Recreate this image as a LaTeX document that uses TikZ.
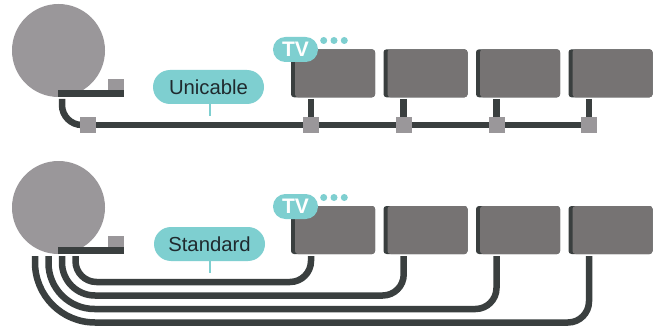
\documentclass[tikz,border=0pt]{standalone}
\usepackage{fontspec}
\setmainfont{Liberation Sans}
\definecolor{dishgray}{HTML}{9A979A}
\definecolor{cabledark}{HTML}{3A3F3F}
\definecolor{tvgray}{HTML}{767373}
\definecolor{teal}{HTML}{7ECFD0}
\definecolor{inktext}{HTML}{1F2A2E}
\tikzset{
  dish/.style={circle,fill=dishgray,inner sep=0,minimum size=93pt},
  lnb/.style={rectangle,fill=dishgray,inner sep=0,minimum width=16pt,minimum height=12pt},
  armbar/.style={rectangle,fill=cabledark,inner sep=0,minimum width=66pt,minimum height=7pt},
  splitter/.style={rectangle,fill=dishgray,inner sep=0,minimum size=16pt},
  tvback/.style={rectangle,fill=cabledark,rounded corners=3pt,inner sep=0,minimum width=84pt,minimum height=48pt},
  tvfront/.style={rectangle,fill=tvgray,rounded corners=3pt,inner sep=0,minimum width=80pt,minimum height=48pt},
  cable/.style={draw=cabledark,line width=6.5pt},
  bubble/.style={rectangle,rounded corners=17pt,fill=teal,inner sep=0,minimum width=111pt,minimum height=34pt,text=inktext,font=\fontsize{20.3}{20.3}\selectfont},
  tvtag/.style={rectangle,rounded corners=12.4pt,fill=teal,inner sep=0,minimum width=45pt,minimum height=25pt,text=white,font=\fontsize{21}{21}\selectfont\bfseries},
  dot/.style={circle,fill=teal,inner sep=0,minimum size=7pt},
  stem/.style={draw=teal,line width=2pt}
}
\begin{document}
\begin{tikzpicture}[x=1pt,y=-1pt]
\useasboundingbox[fill=white] (0,0) rectangle (662,329);
% ---------- top: Unicable
\node[dish] (dishA) at (58.5,50.5) {};
\node[lnb] (lnbA) at (116,85) {};
\node[armbar] (armA) at (91,93.5) {};
\foreach \n/\x in {1/333,2/425.5,3/518,4/610.5}{
  \node[tvback] (tvAb\n) at (\x,73.3) {};
  \node[tvfront] (tvA\n) at (\x+2,73.3) {};
}
\foreach \n/\x in {1/311,2/403.7,3/496.5,4/589}{
  \coordinate (stubA\n) at (\x,99);
  \coordinate (splitPosA\n) at (\x,125);
  \draw[cable] (stubA\n) -- (splitPosA\n);
}
\coordinate (feedA) at (62,99);
\coordinate (splitPosA0) at (88,125);
\draw[cable,rounded corners=20pt] (feedA) |- (splitPosA0);
\draw[cable] (splitPosA0) -- (splitPosA4);
\foreach \n in {0,1,2,3,4}{ \node[splitter] (splitA\n) at (splitPosA\n) {}; }
\node[bubble] (uni) at (208.5,87) {Unicable};
\coordinate (uniEnd) at (209.5,116);
\draw[stem] (uni.south -| uniEnd) -- (uniEnd);
\node[tvtag] (tagA) at (295.5,49.5) {TV};
\foreach \n/\x in {1/323.7,2/334,3/344.3}{ \node[dot] (dotA\n) at (\x,40.5) {}; }
% ---------- bottom: Standard
\node[dish] (dishB) at (58.5,207.5) {};
\node[lnb] (lnbB) at (116,242) {};
\node[armbar] (armB) at (91,250.5) {};
\foreach \n/\x in {1/333,2/425.5,3/518,4/610.5}{
  \node[tvback] (tvBb\n) at (\x,230) {};
  \node[tvfront] (tvB\n) at (\x+2,230) {};
}
\coordinate (outB1) at (75.5,256);
\coordinate (outB2) at (62,256);
\coordinate (outB3) at (48.5,256);
\coordinate (outB4) at (35,256);
\coordinate (inB1) at (311,256);
\coordinate (inB2) at (403.7,256);
\coordinate (inB3) at (496.5,256);
\coordinate (inB4) at (589,256);
\coordinate (lowB1) at (0,282);
\coordinate (lowB2) at (0,295.5);
\coordinate (lowB3) at (0,309);
\coordinate (lowB4) at (0,322.5);
\draw[cable,rounded corners=21pt] (outB1) -- (outB1 |- lowB1) -- (inB1 |- lowB1) -- (inB1);
\draw[cable] (outB2) [rounded corners=33pt] -- (outB2 |- lowB2) [rounded corners=21pt] -- (inB2 |- lowB2) -- (inB2);
\draw[cable] (outB3) [rounded corners=46pt] -- (outB3 |- lowB3) [rounded corners=21pt] -- (inB3 |- lowB3) -- (inB3);
\draw[cable] (outB4) [rounded corners=60pt] -- (outB4 |- lowB4) [rounded corners=21pt] -- (inB4 |- lowB4) -- (inB4);
\node[bubble] (std) at (209.5,244) {Standard};
\coordinate (stdEnd) at (209.5,272.6);
\draw[stem] (std.south -| stdEnd) -- (stdEnd);
\node[tvtag] (tagB) at (295.5,206.5) {TV};
\foreach \n/\x in {1/323.7,2/334,3/344.3}{ \node[dot] (dotB\n) at (\x,197.5) {}; }
\end{tikzpicture}
\end{document}
